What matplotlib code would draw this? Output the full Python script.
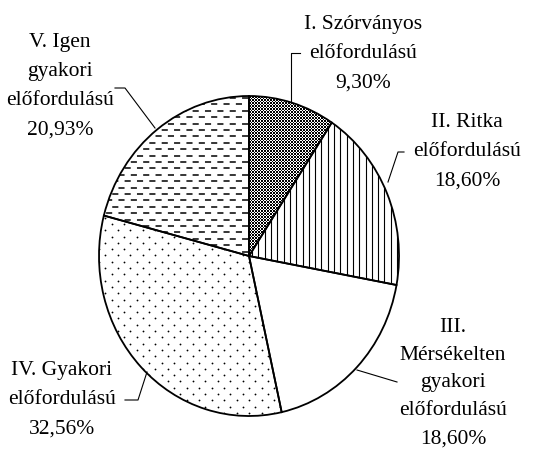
import matplotlib
matplotlib.use("Agg")
import matplotlib.pyplot as plt
from matplotlib.lines import Line2D
import numpy as np

values = [9.30, 18.60, 18.60, 32.56, 20.93]
labels = ["I. Szórványos\nelőfordulású\n9,30%",
          "II. Ritka\nelőfordulású\n18,60%",
          "III.\nMérsékelten\ngyakori\nelőfordulású\n18,60%",
          "IV. Gyakori\nelőfordulású\n32,56%",
          "V. Igen\ngyakori\nelőfordulású\n20,93%"]

W, H = 557, 449
plt.rcParams['lines.scale_dashes'] = False
fig = plt.figure(figsize=(W / 100, H / 100), dpi=100)
fig.patch.set_facecolor('white')

# pie bounding box in pixels
L, T, R, B = 99, 96, 399, 416
cx, cy, rx, ry = (L + R) / 2, (T + B) / 2, (R - L) / 2, (B - T) / 2
ax = fig.add_axes([L / W, 1 - B / H, (R - L) / W, (B - T) / H])

wedges, _ = ax.pie(values, startangle=90, counterclock=False, radius=1,
                   wedgeprops=dict(facecolor='none', edgecolor='black',
                                   linewidth=1.3))
ax.set_xlim(-1, 1)
ax.set_ylim(-1, 1)
ax.set_aspect('auto')
ax.axis('off')

def dx(px):
    return (np.asarray(px, float) - cx) / rx

def dy(py):
    return (cy - np.asarray(py, float)) / ry

# I: fine checker grid (2x2 black blocks separated by 1px white lines)
nx, ny = R - L, B - T
ii = np.arange(ny)[:, None] % 3 == 2
jj = np.arange(nx)[None, :] % 3 == 2
chk = np.logical_xor(ii, jj).astype(float)
im = ax.imshow(chk, cmap='gray', vmin=0, vmax=1, interpolation='nearest',
               extent=(dx(L), dx(R), dy(B), dy(T)),
               aspect='auto', zorder=0.5)
im.set_clip_path(wedges[0])
ax.set_xlim(-1, 1)
ax.set_ylim(-1, 1)

# II: vertical lines
for px in np.arange(L + 2, R, 6.3):
    ln = Line2D([dx(px)] * 2, [-1, 1], color='black', linewidth=0.8, zorder=0.5)
    ax.add_line(ln)
    ln.set_clip_path(wedges[1])

# IV: staggered dots
xs, ys = [], []
for i, py in enumerate(np.arange(T + 2, B, 6.3)):
    off = 6.25 if i % 2 else 0.0
    for px in np.arange(L + off, R, 12.5):
        xs.append(px)
        ys.append(py)
dots, = ax.plot(dx(xs), dy(ys), 'o', color='black', markersize=1.3,
                markeredgewidth=0, zorder=0.5)
dots.set_clip_path(wedges[3])

# V: dashed horizontal rows
for i, py in enumerate(np.arange(T + 2, B, 6.4)):
    off = 4.46 if i % 2 else 0.0
    ln = Line2D([-1.2, 1.2], [dy(py)] * 2, color='black', linewidth=1.1,
                linestyle=(off, (4.4, 4.5)), zorder=0.5)
    ax.add_line(ln)
    ln.set_clip_path(wedges[4])

def P(x, y):
    return (x / W, 1 - y / H)

font = dict(family='Liberation Serif', size=15.5)
label_pos = [(363, 54), (467, 152), (453, 383), (62, 400), (60, 86)]
spacings = [1.72, 1.72, 1.64, 1.72, 1.72]
for (x, y), t, s in zip(label_pos, labels, spacings):
    fig.text(*P(x, y), t, ha='center', va='center', linespacing=s, **font)

leaders = [
    [(291, 103), (291, 53), (300, 53)],
    [(388, 182), (398, 152), (404, 152)],
    [(357, 370), (397, 382)],
    [(147, 372), (138, 400), (125, 400)],
    [(155, 128), (125, 88), (115, 88)],
]
for pts in leaders:
    xs_ = [P(*p)[0] for p in pts]
    yv = [P(*p)[1] for p in pts]
    fig.add_artist(Line2D(xs_, yv, color='black', linewidth=0.8,
                          transform=fig.transFigure))

fig.savefig("out.png", dpi=100, facecolor='white')
